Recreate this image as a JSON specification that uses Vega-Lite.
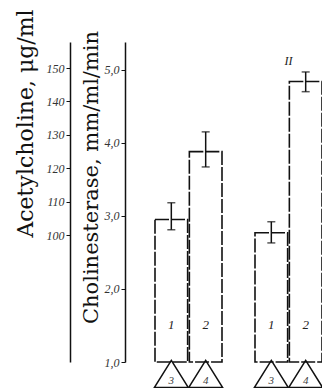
{
  "$schema": "https://vega.github.io/schema/vega-lite/v6.json",
  "width": 197,
  "height": 320,
  "autosize": "none",
  "padding": {"left": 125, "top": 42, "right": 0, "bottom": 26},
  "background": "white",
  "config": {
    "view": {"stroke": null},
    "axis": {"domainColor": "#111", "tickColor": "#111", "labelColor": "#333", "titleColor": "#111", "grid": false}
  },
  "data": {"values": [
    {"group": "I", "bar": "1", "value": 2.95, "lo": 2.81, "hi": 3.18, "tri": "3"},
    {"group": "I", "bar": "2", "value": 3.88, "lo": 3.67, "hi": 4.15, "tri": "4"},
    {"group": "II", "bar": "1", "value": 2.77, "lo": 2.63, "hi": 2.92, "tri": "3"},
    {"group": "II", "bar": "2", "value": 4.84, "lo": 4.70, "hi": 4.97, "tri": "4"}
  ]},
  "layer": [
    {
      "encoding": {
        "x": {"field": "group", "type": "nominal", "axis": null,
              "scale": {"domain": ["I", "II"], "paddingInner": 0.33, "paddingOuter": 0.15, "align": 1}}
      },
      "layer": [
        {
          "mark": {"type": "bar", "fill": "white", "stroke": "#111", "strokeWidth": 1.6, "strokeDash": [14, 2]},
          "encoding": {
            "xOffset": {"field": "bar", "type": "nominal", "scale": {"domain": ["1", "2"], "paddingInner": 0.05, "paddingOuter": 0}},
            "y": {"field": "value", "type": "quantitative",
                  "scale": {"domain": [1, 5.38], "zero": false, "nice": false},
                  "axis": {"orient": "left", "offset": 0, "title": "Cholinesterase, mm/ml/min", "values": [1, 2, 3, 4, 5],
                           "labelExpr": "replace(format(datum.value,'.1f'),'.',',')",
                           "titleFont": "DejaVu Serif", "titleFontSize": 21, "titleFontWeight": "normal",
                           "titleX": -24, "titleY": 135, "titleAngle": -90, "titleAlign": "center", "titleBaseline": "bottom",
                           "labelFont": "Liberation Serif", "labelFontStyle": "italic", "labelFontSize": 12,
                           "tickSize": 4, "domainWidth": 1.5, "labelPadding": 2}},
            "y2": {"datum": 1}
          }
        },
        {
          "mark": {"type": "rule", "stroke": "#111", "strokeWidth": 1.5},
          "encoding": {
            "xOffset": {"field": "bar", "type": "nominal"},
            "y": {"field": "lo", "type": "quantitative"}, "y2": {"field": "hi"}}
        },
        {
          "mark": {"type": "tick", "color": "#111", "size": 8, "thickness": 1.5},
          "encoding": {
            "xOffset": {"field": "bar", "type": "nominal"},
            "y": {"field": "lo", "type": "quantitative"}}
        },
        {
          "mark": {"type": "tick", "color": "#111", "size": 8, "thickness": 1.5},
          "encoding": {
            "xOffset": {"field": "bar", "type": "nominal"},
            "y": {"field": "hi", "type": "quantitative"}}
        },
        {
          "mark": {"type": "text", "font": "Liberation Serif", "fontStyle": "italic", "fontSize": 13, "color": "#222"},
          "encoding": {
            "xOffset": {"field": "bar", "type": "nominal"},
            "y": {"datum": 1.5, "type": "quantitative"}, "text": {"field": "bar"}}
        },
        {
          "mark": {"type": "point", "shape": "M0,-0.8L1,0.8L-1,0.8Z", "filled": false, "stroke": "#111", "strokeWidth": 1.5, "size": 1156, "opacity": 1},
          "encoding": {
            "xOffset": {"field": "bar", "type": "nominal"},
            "y": {"datum": 0.836, "type": "quantitative"}}
        },
        {
          "mark": {"type": "text", "font": "Liberation Serif", "fontStyle": "italic", "fontSize": 11, "color": "#444"},
          "encoding": {
            "xOffset": {"field": "bar", "type": "nominal"},
            "y": {"datum": 0.74, "type": "quantitative"}, "text": {"field": "tri"}}
        },
        {
          "data": {"values": [{"group": "II", "label": "II"}]},
          "mark": {"type": "text", "font": "Liberation Serif", "fontStyle": "italic", "fontSize": 12, "color": "#222"},
          "encoding": {
            "y": {"datum": 5.12, "type": "quantitative"},
            "text": {"field": "label"}
          }
        }
      ]
    },
    {
      "mark": {"type": "rule", "opacity": 0},
      "encoding": {
        "y": {"datum": 100, "type": "quantitative",
              "scale": {"domain": [62, 157.8], "zero": false, "nice": false},
              "axis": {"orient": "left", "offset": 55, "title": "Acetylcholine, μg/ml", "values": [100, 110, 120, 130, 140, 150],
                       "titleFont": "DejaVu Serif", "titleFontSize": 22, "titleFontWeight": "normal",
                       "titleX": -33, "titleY": 81, "titleAngle": -90, "titleAlign": "center", "titleBaseline": "bottom",
                       "labelFont": "Liberation Serif", "labelFontStyle": "italic", "labelFontSize": 12,
                       "tickSize": 4, "domainWidth": 1.5, "labelPadding": 2}}
      }
    }
  ],
  "resolve": {"scale": {"y": "independent"}, "axis": {"y": "independent"}}
}
